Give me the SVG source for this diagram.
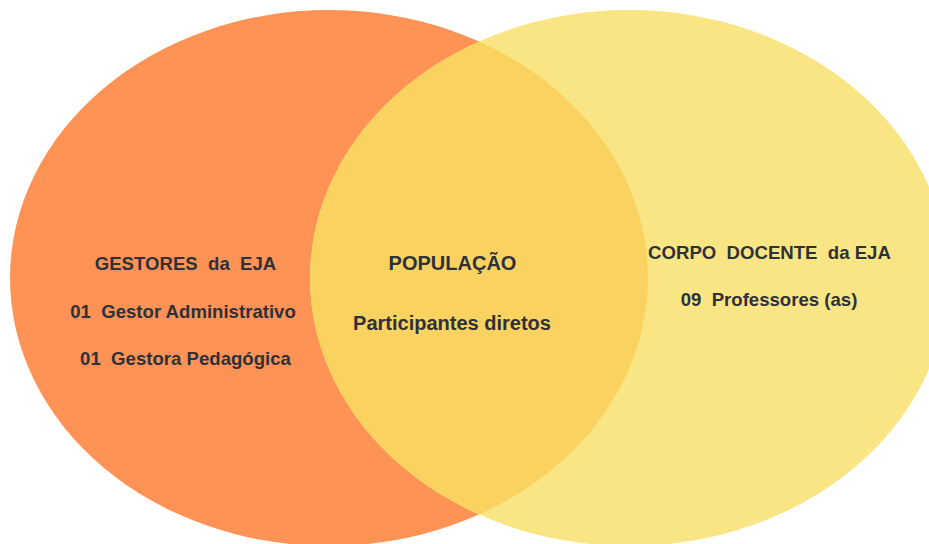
<svg xmlns="http://www.w3.org/2000/svg" width="929" height="544" viewBox="0 0 929 544">
<style>
.t{font-family:"Liberation Sans",Arial,sans-serif;font-weight:bold;font-size:18.6px;fill:#2E3138;text-anchor:middle;white-space:pre}
.m{font-size:20px}
</style>
<defs>
<clipPath id="clipL"><ellipse cx="329" cy="278" rx="319" ry="268"/></clipPath>
</defs>
<rect width="929" height="544" fill="#ffffff"/>
<g id="gestores">
<ellipse cx="329" cy="278" rx="319" ry="268" fill="#FF9356"/>
</g>
<g id="docentes">
<ellipse cx="629" cy="278" rx="319" ry="268" fill="#FAE584"/>
</g>
<g id="populacao">
<ellipse cx="629" cy="278" rx="319" ry="268" fill="#FAD260" clip-path="url(#clipL)"/>
</g>
<g id="connectors"></g>
<g id="labels">
<text class="t" x="185.5" y="269.5">GESTORES  da  EJA</text>
<text class="t" x="183" y="317.5">01  Gestor Administrativo</text>
<text class="t" x="185.5" y="364.5">01  Gestora Pedagógica</text>
<text class="t m" x="452.5" y="270">POPULAÇÃO</text>
<text class="t m" x="452" y="330">Participantes diretos</text>
<text class="t" x="769.5" y="258.5">CORPO  DOCENTE  da EJA</text>
<text class="t" x="769" y="305.5">09  Professores (as)</text>
</g>
</svg>
